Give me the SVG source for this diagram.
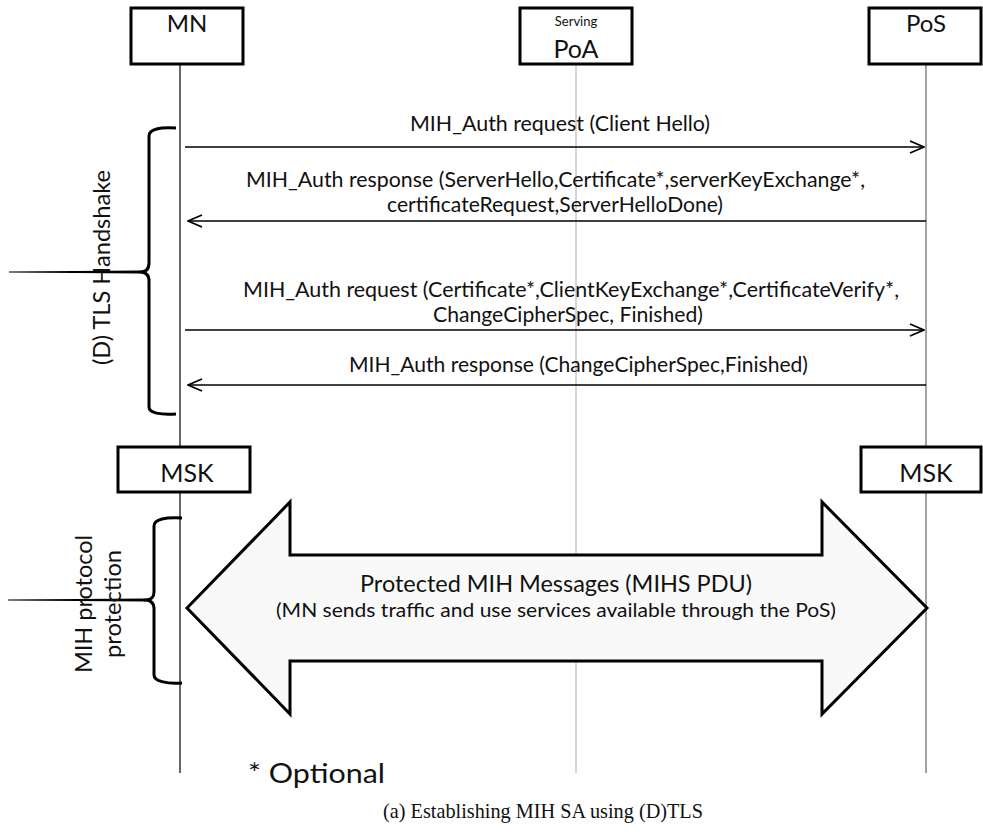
<svg xmlns="http://www.w3.org/2000/svg" width="983" height="834" viewBox="0 0 983 834">
<style>
.box{fill:#fff;stroke:#000;stroke-width:3}
.t{font-family:Lato,"Liberation Sans",sans-serif;fill:#111}
.msg{font-size:21px}
.brace{fill:none;stroke:#000;stroke-width:3;stroke-linejoin:round}
.arr{stroke:#000;stroke-width:1.3;fill:none;marker-end:url(#open)}
</style>
<defs>
<marker id="open" viewBox="0 0 16 14" refX="15" refY="7" markerWidth="16" markerHeight="14" orient="auto" markerUnits="userSpaceOnUse">
<path d="M1,1 L15,7 L1,13" fill="none" stroke="#000" stroke-width="1.7"/>
</marker>
</defs>
<rect width="983" height="834" fill="#fff"/>

<g id="connectors">
<line x1="180" y1="64" x2="180" y2="773" stroke="#000" stroke-width="1.2"/>
<line x1="576" y1="64" x2="576" y2="773" stroke="#bbb" stroke-width="1.2"/>
<line x1="926" y1="64" x2="926" y2="773" stroke="#666" stroke-width="1.2"/>
<line class="arr" x1="185" y1="147" x2="924" y2="147"/>
<line class="arr" x1="926" y1="221" x2="188" y2="221"/>
<line class="arr" x1="185" y1="330" x2="924" y2="330"/>
<line class="arr" x1="926" y1="385" x2="188" y2="385"/>
</g>

<g id="MN"><rect class="box" x="131" y="8" width="112" height="56"/><text class="t" x="187" y="32" font-size="24" text-anchor="middle">MN</text></g>
<g id="PoA"><rect class="box" x="520" y="8" width="112" height="56"/><text class="t" x="576" y="26" font-size="13" text-anchor="middle">Serving</text><text class="t" x="576" y="58" font-size="25" text-anchor="middle">PoA</text></g>
<g id="PoS"><rect class="box" x="869" y="8" width="112" height="56"/><text class="t" x="926" y="32" font-size="24" text-anchor="middle">PoS</text></g>

<g id="labels">
<text class="t msg" x="410" y="131" textLength="300" lengthAdjust="spacingAndGlyphs">MIH_Auth request (Client Hello)</text>
<text class="t msg" x="246" y="187" textLength="619" lengthAdjust="spacingAndGlyphs">MIH_Auth response (ServerHello,Certificate*,serverKeyExchange*,</text>
<text class="t msg" x="387" y="212" textLength="336" lengthAdjust="spacingAndGlyphs">certificateRequest,ServerHelloDone)</text>
<text class="t msg" x="243" y="297" textLength="656" lengthAdjust="spacingAndGlyphs">MIH_Auth request (Certificate*,ClientKeyExchange*,CertificateVerify*,</text>
<text class="t msg" x="433" y="322" textLength="270" lengthAdjust="spacingAndGlyphs">ChangeCipherSpec, Finished)</text>
<text class="t msg" x="349" y="372" textLength="459" lengthAdjust="spacingAndGlyphs">MIH_Auth response (ChangeCipherSpec,Finished)</text>
</g>

<g id="tls-brace">
<path class="brace" d="M176,128 C160,127 149,129 149,136 L149,263 C149,269 146,272 140,272 C146,272 149,275 149,281 L149,407 C149,413 160,415 176,414"/>
<path d="M9,271.6 L140,270.5 L140,273.5 L9,272.4 Z" fill="#000"/>
<text class="t" transform="translate(110,267.5) rotate(-90)" font-size="23" text-anchor="middle" textLength="195" lengthAdjust="spacingAndGlyphs">(D) TLS Handshake</text>
</g>

<g id="MSK-MN"><rect class="box" x="118" y="447" width="132" height="45"/><text class="t" x="187" y="482" font-size="25" text-anchor="middle">MSK</text></g>
<g id="MSK-PoS"><rect class="box" x="861" y="447" width="120" height="45"/><text class="t" x="926" y="482" font-size="25" text-anchor="middle">MSK</text></g>

<g id="protection-brace">
<path class="brace" d="M182,518 C166,517 154,519 154,526 L154,592 C154,598 151,600 145,600 C151,600 154,603 154,609 L154,675 C154,681 166,684 182,683"/>
<path d="M8,599.6 L145,598.5 L145,601.5 L8,600.4 Z" fill="#000"/>
<text class="t" transform="translate(92,604) rotate(-90)" font-size="23" text-anchor="middle" textLength="138" lengthAdjust="spacingAndGlyphs">MIH protocol</text>
<text class="t" transform="translate(121,604) rotate(-90)" font-size="23" text-anchor="middle" textLength="108" lengthAdjust="spacingAndGlyphs">protection</text>
</g>

<g id="protected-messages">
<polygon points="187,608 290,502 290,555 822,555 822,502 927,608 822,714 822,661 290,661 290,714" fill="#f9f9f9" stroke="#000" stroke-width="3" stroke-linejoin="miter"/>
<text class="t" x="360" y="592" font-size="24" textLength="392" lengthAdjust="spacingAndGlyphs">Protected MIH Messages (MIHS PDU)</text>
<text class="t" x="276" y="617" font-size="19" textLength="560" lengthAdjust="spacingAndGlyphs">(MN sends traffic and use services available through the PoS)</text>
</g>

<text class="t" x="248" y="783" font-size="27" textLength="137" lengthAdjust="spacingAndGlyphs">* Optional</text>
<text x="383" y="818" font-family="'Liberation Serif',serif" font-size="21" fill="#111" textLength="320" lengthAdjust="spacingAndGlyphs">(a) Establishing MIH SA using (D)TLS</text>
</svg>
